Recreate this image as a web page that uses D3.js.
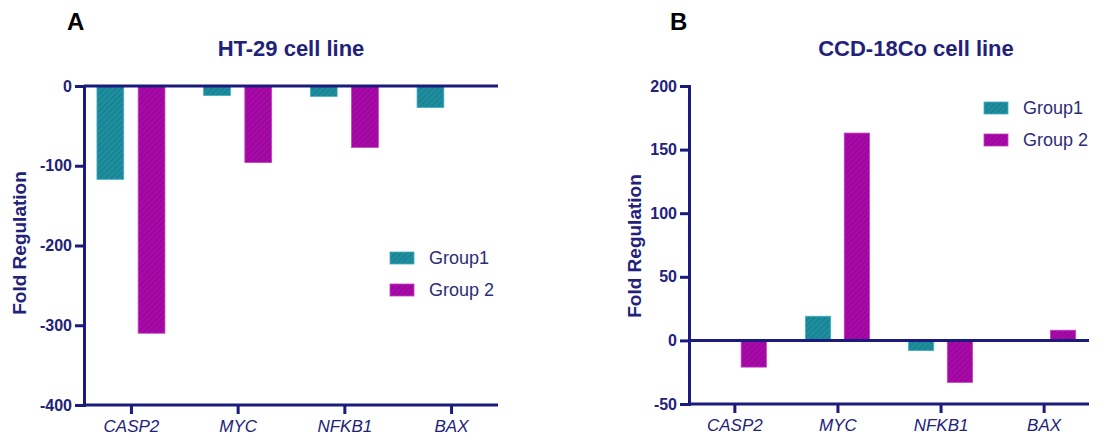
<!DOCTYPE html>
<html>
<head>
<meta charset="utf-8">
<script src="https://cdn.jsdelivr.net/npm/d3@7"></script>
<style>
  body { margin: 0; background: #fff; }
  svg text { font-family: "Liberation Sans", Arial, sans-serif; }
</style>
</head>
<body>
<svg id="chart" width="1113" height="441"></svg>
<script>
// genes on the x axis
var genes = ["CASP2", "MYC", "NFKB1", "BAX"];
var groups = ["Group1", "Group 2"];

// HT-29 fold regulation
var ht29Group1 = [-117, -12, -13, -27];
var ht29Group2 = [-310, -96, -77, 0];
var ht29Ticks = [0, -100, -200, -300, -400];

// CCD-18Co fold regulation
var ccdGroup1 = [0, 19, -8, 0];
var ccdGroup2 = [-21, 163, -33, 8];
var ccdTicks = [200, 150, 100, 50, 0, -50];

var navy = "#1b1b7d";
var textNavy = "#22227a";
var fills = ["#1e8e9e", "#a80aa8"];
var hatch = ["#137080", "#8a008c"];

var svg = d3.select("#chart");
var defs = svg.append("defs");

// diagonal hatch patterns like in the original bars
fills.forEach(function(c, i) {
    var p = defs.append("pattern")
        .attr("id", "hatch" + i)
        .attr("patternUnits", "userSpaceOnUse")
        .attr("width", 4).attr("height", 4)
        .attr("patternTransform", "rotate(45)");
    p.append("rect").attr("width", 4).attr("height", 4).attr("fill", c);
    p.append("line").attr("x1", 0).attr("y1", 0).attr("x2", 0).attr("y2", 4)
        .attr("stroke", hatch[i]).attr("stroke-width", 1.2);
});

function drawPanel(cfg) {
    var g = svg.append("g");

    var x = d3.scalePoint().domain(genes).range([cfg.left, cfg.right]).padding(0.44);
    var inner = d3.scaleBand().domain(groups).range([-cfg.half, cfg.half]).paddingInner(0.35);
    var y = d3.scaleLinear().domain(cfg.domain).range([cfg.bottom, cfg.top]);

    var rows = [];
    genes.forEach(function(gene, i) {
        rows.push({gene: gene, group: groups[0], value: cfg.g1[i], k: 0});
        rows.push({gene: gene, group: groups[1], value: cfg.g2[i], k: 1});
    });

    g.selectAll("rect.bar")
        .data(rows.filter(function(d) { return d.value !== 0; }))
        .enter().append("rect")
        .attr("class", "bar")
        .attr("x", function(d) { return x(d.gene) + inner(d.group); })
        .attr("width", inner.bandwidth())
        .attr("y", function(d) { return y(Math.max(0, d.value)); })
        .attr("height", function(d) { return Math.abs(y(d.value) - y(0)); })
        .attr("fill", function(d) { return "url(#hatch" + d.k + ")"; })
        .attr("stroke", function(d) { return d.k ? "#c040c0" : "#40b0c0"; })
        .attr("stroke-width", 0.8);

    // y axis
    var yAxis = g.append("g")
        .attr("transform", "translate(" + cfg.left + ",0)")
        .call(d3.axisLeft(y).tickValues(cfg.ticks).tickSize(9).tickPadding(3).tickFormat(d3.format("d")));
    yAxis.select(".domain").attr("stroke", navy).attr("stroke-width", 3);
    yAxis.selectAll(".tick line").attr("stroke", navy).attr("stroke-width", 3);
    yAxis.selectAll(".tick text")
        .attr("fill", textNavy).attr("font-size", 16).attr("font-weight", "bold")
        .text(function(d) { return d < 0 ? "-" + Math.abs(d) : d; });

    // zero line
    g.append("line")
        .attr("x1", cfg.left).attr("x2", cfg.right)
        .attr("y1", y(0)).attr("y2", y(0))
        .attr("stroke", navy).attr("stroke-width", 3);

    // category axis at the bottom
    var xAxis = g.append("g")
        .attr("transform", "translate(0," + cfg.bottom + ")")
        .call(d3.axisBottom(x).tickSize(9).tickPadding(6));
    xAxis.select(".domain").remove();
    g.append("line")
        .attr("x1", cfg.left).attr("x2", cfg.right)
        .attr("y1", cfg.bottom).attr("y2", cfg.bottom)
        .attr("stroke", navy).attr("stroke-width", 3);
    xAxis.selectAll(".tick line").attr("stroke", navy).attr("stroke-width", 3);
    xAxis.selectAll(".tick text")
        .attr("fill", textNavy).attr("font-size", 17).attr("font-style", "italic");

    // axis title
    g.append("text")
        .attr("transform", "translate(" + cfg.labelX + "," + cfg.labelY + ") rotate(-90)")
        .attr("text-anchor", "middle")
        .attr("fill", textNavy).attr("font-size", 19).attr("font-weight", "bold")
        .text("Fold Regulation");

    // title and panel letter
    g.append("text")
        .attr("x", cfg.titleX).attr("y", 56)
        .attr("text-anchor", "middle")
        .attr("fill", textNavy).attr("font-size", 22).attr("font-weight", "bold")
        .text(cfg.title);
    g.append("text")
        .attr("x", cfg.letterX).attr("y", 30)
        .attr("fill", "#000").attr("font-size", 24).attr("font-weight", "bold")
        .text(cfg.letter);

    // legend
    var leg = g.selectAll("g.leg").data(groups).enter().append("g")
        .attr("transform", function(d, i) { return "translate(" + cfg.legX + "," + (cfg.legY + i * cfg.legGap) + ")"; });
    leg.append("rect")
        .attr("x", 0).attr("y", -6).attr("width", 24).attr("height", 12)
        .attr("fill", function(d, i) { return "url(#hatch" + i + ")"; })
        .attr("stroke", function(d, i) { return i ? "#c040c0" : "#40b0c0"; })
        .attr("stroke-width", 0.8);
    leg.append("text")
        .attr("x", 39).attr("y", 6)
        .attr("fill", "#2c2c78").attr("font-size", 18)
        .text(function(d) { return d; });
}

drawPanel({
    left: 84, right: 498, top: 86, bottom: 405, half: 34,
    domain: [-400, 0], ticks: ht29Ticks,
    g1: ht29Group1, g2: ht29Group2,
    labelX: 26, labelY: 243, title: "HT-29 cell line", titleX: 291, letter: "A", letterX: 67,
    legX: 390, legY: 258, legGap: 32
});

drawPanel({
    left: 689, right: 1089, top: 86, bottom: 404, half: 32,
    domain: [-50, 200], ticks: ccdTicks,
    g1: ccdGroup1, g2: ccdGroup2,
    labelX: 641, labelY: 246, title: "CCD-18Co cell line", titleX: 916, letter: "B", letterX: 670,
    legX: 984, legY: 108, legGap: 32
});
</script>
</body>
</html>
